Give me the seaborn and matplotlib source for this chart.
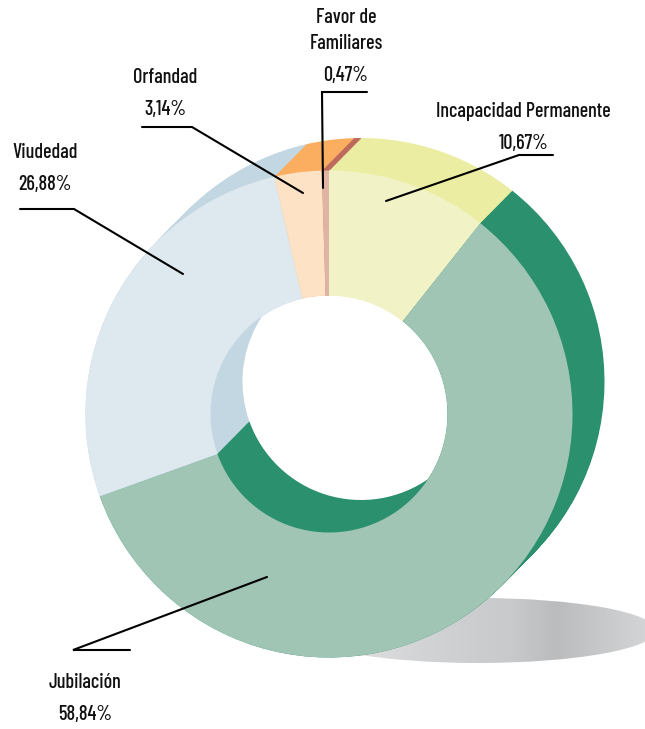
import numpy as np
import matplotlib
matplotlib.use("Agg")
import matplotlib.pyplot as plt
from matplotlib.colors import LinearSegmentedColormap
from matplotlib.patches import Ellipse
import seaborn as sns

# Data
categories = ["Incapacidad Permanente", "Jubilación", "Viudedad", "Orfandad", "Favor de\nFamiliares"]
values = [10.67, 58.84, 26.88, 3.14, 0.47]
value_labels = ["10,67%", "58,84%", "26,88%", "3,14%", "0,47%"]
back_colors = ["#ebeea2", "#2a906e", "#c3d7e3", "#fbae5f", "#bd6b5c"]
front_colors = ["#f1f3c6", "#a0c5b5", "#dde8ef", "#fee2c6", "#dfb4a5"]
shadow_colors = ["#e6e7e8", "#d2d3d5", "#c8c9cb", "#bbbcbe", "#d6d7d9"]

sns.set_theme(style="white")
plt.rcParams["font.family"] = ["Barlow Condensed", "Cabin Condensed", "Lato", "DejaVu Sans"]

fig = plt.figure(figsize=(6.45, 7.29), dpi=100, facecolor="white")
ax = fig.add_axes([0, 0, 1, 1])

# Floor shadow
cmap = LinearSegmentedColormap.from_list("shadow", list(zip([0, .35, .6, .72, 1], shadow_colors)))
img = ax.imshow(np.linspace(0, 1, 256)[None, :], cmap=cmap, extent=(300, 656, 663, 598),
                aspect="auto", zorder=0)
ell = Ellipse((478, 630.5), 356, 65, transform=ax.transData, fc="none", ec="none")
ax.add_patch(ell)
img.set_clip_path(ell)

ring = dict(width=125, linewidth=0, edgecolor="none")
# Extruded side: the dark ring swept from the rear position towards the front one
back_center = np.array([361.0, 381.5])
front_center = np.array([329.0, 414.0])
back_pal = sns.color_palette(back_colors)
for t in np.linspace(0, 1, 40):
    c = back_center + t * (front_center - back_center)
    ax.pie(values, colors=back_pal, center=tuple(c), radius=243.5,
           startangle=270, counterclock=True, wedgeprops=ring, frame=True)
# Front face
ax.pie(values, colors=sns.color_palette(front_colors), center=tuple(front_center), radius=243.5,
       startangle=270, counterclock=True, wedgeprops=ring, frame=True)

ax.set_xlim(0, 645)
ax.set_ylim(729, 0)
ax.set_aspect("equal")
ax.axis("off")

# Leader lines
leaders = [
    ([553, 519, 386], [155, 155, 201]),
    ([130, 73, 267], [650, 650, 577]),
    ([20, 74, 183], [209, 209, 274]),
    ([142, 192, 303], [127, 127, 193]),
    ([367, 322, 323], [92, 92, 188]),
]
for xs, ys in leaders:
    ax.plot(xs, ys, color="black", lw=1.5, solid_joinstyle="miter", zorder=5)

# Labels
fs = 14.5
name_pos = [(523, 111), (85, 682), (45, 152), (165, 77), (346, 30.5)]
val_pos = [(524, 143), (85, 714), (45, 184), (165, 109), (346, 75)]
for name, val, np_, vp in zip(categories, value_labels, name_pos, val_pos):
    ax.text(*np_, name, ha="center", va="center", fontsize=fs, color="#111111",
            fontweight=500, linespacing=1.5, zorder=6)
    ax.text(*vp, val, ha="center", va="center", fontsize=fs, color="#111111",
            fontweight=500, zorder=6)

fig.savefig("out.png", dpi=100, facecolor="white")
